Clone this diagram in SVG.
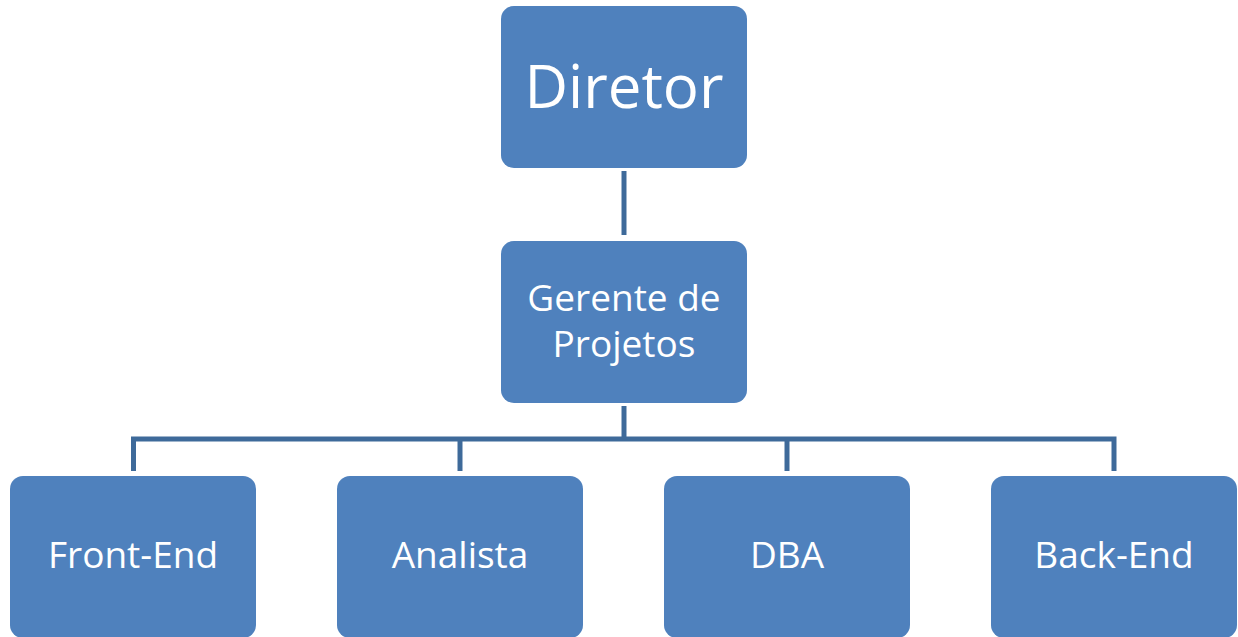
<svg xmlns="http://www.w3.org/2000/svg" width="1238" height="637" viewBox="0 0 1238 637">
<style>
.box{fill:#4F81BD;}
.lbl{fill:#FFFFFF;font-family:"Open Sans","Noto Sans",sans-serif;text-anchor:middle;font-size:37px;}
.big{font-size:60px;}
.con{fill:none;stroke:#3E6A9A;stroke-width:5;}
</style>
<rect width="1238" height="637" fill="#FFFFFF"/>
<g id="connectors">
<line class="con" x1="624" y1="171" x2="624" y2="235"/>
<line class="con" x1="624" y1="406" x2="624" y2="439"/>
<polyline class="con" points="133.5,471 133.5,439 1114,439 1114,471"/>
<line class="con" x1="460" y1="439" x2="460" y2="471"/>
<line class="con" x1="787" y1="439" x2="787" y2="471"/>
</g>
<g id="diretor">
<rect class="box" x="501" y="6" width="246" height="162" rx="13"/>
<text class="lbl big" x="624" y="108">Diretor</text>
</g>
<g id="gerente">
<rect class="box" x="501" y="241" width="246" height="162" rx="13"/>
<text class="lbl" x="624" y="311">Gerente de</text>
<text class="lbl" x="624" y="357">Projetos</text>
</g>
<g id="frontend">
<rect class="box" x="10" y="476" width="246" height="162" rx="13"/>
<text class="lbl" x="133" y="568">Front-End</text>
</g>
<g id="analista">
<rect class="box" x="337" y="476" width="246" height="162" rx="13"/>
<text class="lbl" x="460" y="568">Analista</text>
</g>
<g id="dba">
<rect class="box" x="664" y="476" width="246" height="162" rx="13"/>
<text class="lbl" x="787" y="568">DBA</text>
</g>
<g id="backend">
<rect class="box" x="991" y="476" width="246" height="162" rx="13"/>
<text class="lbl" x="1114" y="568">Back-End</text>
</g>
</svg>
